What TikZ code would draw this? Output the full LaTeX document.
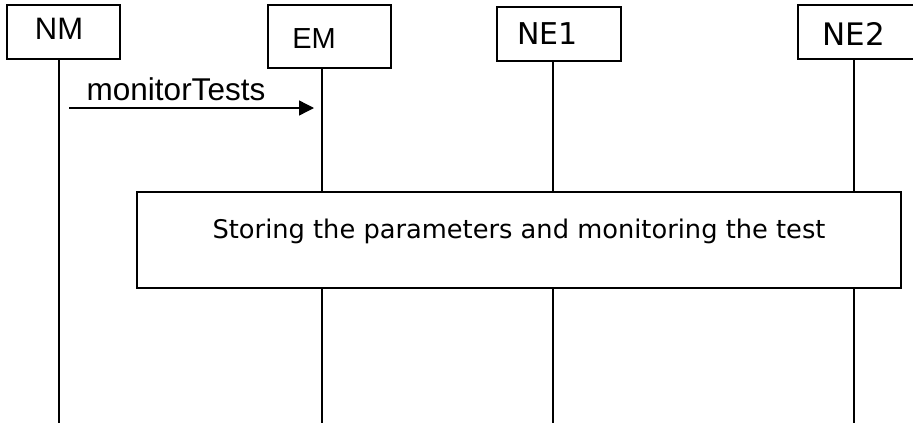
\documentclass[tikz,border=0pt]{standalone}
\usepackage{fontspec}
\setmainfont{Liberation Sans}
\newfontfamily\verd{DejaVu Sans}
\usetikzlibrary{arrows.meta}

\begin{document}
\begin{tikzpicture}[x=1pt, y=-1pt,
    box/.style={draw, line width=1.4pt, inner sep=0pt},
    life/.style={line width=1.4pt},
    msg/.style={-{Triangle[length=15pt,width=15pt]}, line width=1.4pt}]
  \clip (0,0) rectangle (913,426);
  % entities
  \node[box, minimum width=113pt, minimum height=54pt] (nm) at (63.5,32) {};
  \node[box, minimum width=123pt, minimum height=63pt] (em) at (329.5,36.5) {};
  \node[box, minimum width=124pt, minimum height=54pt] (ne1) at (559,34) {};
  \node[box, minimum width=124pt, minimum height=54pt] (ne2) at (860,32) {};
  \node[inner sep=0pt, font=\fontsize{31}{33}\selectfont] (nm-t) at (59,29) {NM};
  \node[inner sep=0pt, font=\fontsize{29}{31}\selectfont] (em-t) at (314,39) {EM};
  \node[inner sep=0pt, font=\verd\fontsize{30}{32}\selectfont] (ne1-t) at (547.5,34) {NE1};
  \node[inner sep=0pt, font=\verd\fontsize{31}{33}\selectfont] (ne2-t) at (853.5,34) {NE2};
  % lifelines
  \coordinate (bot) at (0,423);
  \draw[life] ([xshift=-4.5pt]nm.south) -- ([xshift=-4.5pt]nm.south |- bot);
  \draw[life] ([xshift=-7.5pt]em.south) -- ([xshift=-7.5pt]em.south |- bot);
  \draw[life] ([xshift=-6pt]ne1.south) -- ([xshift=-6pt]ne1.south |- bot);
  \draw[life] ([xshift=-6pt]ne2.south) -- ([xshift=-6pt]ne2.south |- bot);
  % message
  \coordinate (m1) at (59,108);
  \coordinate (m2) at (322,108);
  \draw[msg, shorten <=10pt, shorten >=8pt] (m1) -- (m2);
  \node[inner sep=0pt, font=\fontsize{31.5}{33}\selectfont] (m-t) at (176,89) {monitorTests};
  % action box
  \node[box, fill=white, minimum width=764pt, minimum height=96pt] (store) at (519,240) {};
  \node[inner sep=0pt, anchor=base, font=\verd\fontsize{25.7}{28}\selectfont] (store-t) at (519,238)
    {Storing the parameters and monitoring the test};
\end{tikzpicture}
\end{document}
